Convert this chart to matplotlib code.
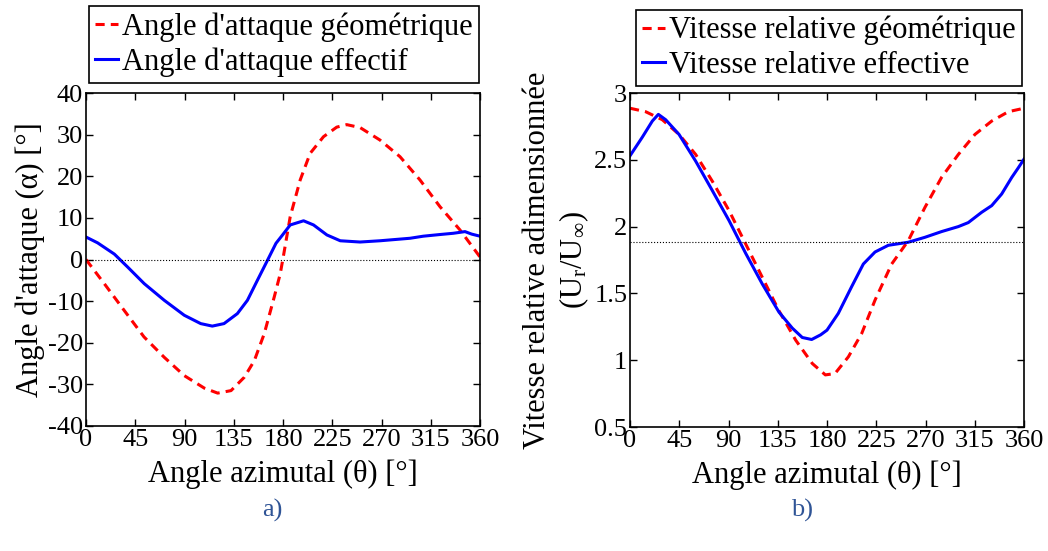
import matplotlib
matplotlib.use("Agg")
import matplotlib.pyplot as plt

plt.rcParams['font.family'] = ['Liberation Serif', 'DejaVu Serif']
plt.rcParams['mathtext.fontset'] = 'custom'
plt.rcParams['mathtext.rm'] = 'Liberation Serif'
plt.rcParams['mathtext.it'] = 'Liberation Serif:italic'
plt.rcParams['axes.unicode_minus'] = False

# ---- Panel a) angle of attack ----
theta_geo_a = [0, 16.7, 34.8, 53.0, 71.5, 89.8, 108.1, 120.3, 132.5, 144.6, 153.8, 162.9,
               172.0, 177.5, 180.5, 186.6, 195.7, 204.8, 217.0, 229.1, 238.2, 250.4,
               268.6, 286.9, 305.2, 323.4, 341.7, 360]
alpha_geo = [0, -5.8, -12.2, -18.6, -23.5, -27.9, -30.9, -32.1, -31.5, -28.3, -24.3, -17.8,
             -9.0, -3.4, 1.0, 10.3, 19.1, 25.5, 29.5, 31.8, 32.4, 31.7,
             28.7, 24.7, 19.1, 12.7, 7.1, 0.6]
theta_eff_a = [0, 10.6, 25.9, 38.0, 53.2, 71.5, 89.8, 104.8, 115.4, 126.1, 138.3, 147.5,
               156.6, 165.8, 173.6, 179.0, 186.6, 198.8, 207.9, 220.1, 232.3, 250.4, 268.6,
               296.0, 308.2, 323.4, 335.6, 346.3, 352.4, 360]
alpha_eff = [5.4, 4.0, 1.3, -1.8, -5.8, -9.8, -13.4, -15.4, -16.0, -15.4, -13.0, -9.8,
             -5.0, -0.2, 3.9, 5.7, 8.3, 9.3, 8.3, 5.9, 4.5, 4.2, 4.5,
             5.1, 5.6, 6.0, 6.3, 6.7, 6.1, 5.6]
alpha_ref = 0.0

# ---- Panel b) relative velocity ----
theta_geo_b = [0, 14.3, 29.5, 44.8, 60.0, 75.2, 90.5, 105.7, 120.9, 136.1, 151.4, 166.6,
               178.5, 187.3, 199.5, 211.7, 223.9, 239.1, 254.3, 269.5, 284.8, 300, 315.2,
               330.5, 345.7, 360]
ur_geo = [2.886, 2.86, 2.80, 2.69, 2.54, 2.34, 2.12, 1.87, 1.62, 1.37, 1.15, 0.975,
          0.89, 0.90, 1.025, 1.20, 1.45, 1.72, 1.895, 2.144, 2.37, 2.54, 2.69,
          2.79, 2.86, 2.886]
theta_eff_b = [0, 11.3, 20.4, 25.9, 32.6, 44.8, 60, 75.2, 90.5, 105.7, 120.9, 136.1, 148.3,
               157.4, 166.0, 174.2, 180.0, 190.3, 202.5, 213.2, 223.9, 236.0, 254.3, 269.5,
               284.8, 300, 309.1, 321.3, 330.5, 339.6, 348.8, 354.8, 360]
ur_eff = [2.53, 2.67, 2.79, 2.84, 2.80, 2.69, 2.49, 2.27, 2.045, 1.80, 1.57, 1.36, 1.24,
          1.17, 1.155, 1.19, 1.225, 1.35, 1.55, 1.72, 1.81, 1.86, 1.883, 1.92,
          1.963, 2.0, 2.03, 2.107, 2.157, 2.244, 2.368, 2.44, 2.505]
ur_ref = 1.885

xticks = [0, 45, 90, 135, 180, 225, 270, 315, 360]

W, H = 1048, 551
fig = plt.figure(figsize=(W / 100, H / 100), dpi=100)

def frac(x0, y0, x1, y1):
    return [x0 / W, 1 - y1 / H, (x1 - x0) / W, (y1 - y0) / H]

ax1 = fig.add_axes(frac(86, 93, 480, 426))
ax2 = fig.add_axes(frac(630, 93, 1024, 427))

tick_fs = 19
lab_fs = 22
leg_fs = 22

def style(ax):
    ax.tick_params(direction='in', top=True, right=True, length=5, width=1,
                   labelsize=tick_fs, pad=2)
    for s in ax.spines.values():
        s.set_linewidth(1.2)
    ax.set_xlim(0, 360)
    ax.set_xticks(xticks)
    ax.set_xticklabels([str(t) for t in xticks])

# Panel a
ax1.plot(theta_geo_a, alpha_geo, '--', color='#ff0000', lw=2.2, dashes=(3, 2),
         label="Angle d'attaque géométrique")
ax1.plot(theta_eff_a, alpha_eff, '-', color='#0000ff', lw=2.2,
         label="Angle d'attaque effectif")
ax1.axhline(alpha_ref, color='black', lw=0.8, ls=':')
style(ax1)
ax1.set_ylim(-40, 40)
ax1.set_yticks(range(-40, 41, 10))
ax1.set_xlabel('Angle azimutal (θ) [°]', fontsize=lab_fs, labelpad=6)
ax1.set_ylabel("Angle d'attaque (α) [°]", fontsize=lab_fs, labelpad=2)
leg1 = ax1.legend(loc='lower right', bbox_to_anchor=(0.9975, 1.03), fontsize=leg_fs,
                  frameon=True, fancybox=False, edgecolor='black', framealpha=1,
                  handlelength=0.75, handletextpad=0.15, labelspacing=0.18,
                  borderpad=0.2, borderaxespad=0)
leg1.get_frame().set_linewidth(1.2)

# Panel b
ax2.plot(theta_geo_b, ur_geo, '--', color='#ff0000', lw=2.2, dashes=(3, 2),
         label='Vitesse relative géométrique')
ax2.plot(theta_eff_b, ur_eff, '-', color='#0000ff', lw=2.2,
         label='Vitesse relative effective')
ax2.axhline(ur_ref, color='black', lw=0.8, ls=':')
style(ax2)
ax2.set_ylim(0.5, 3)
yt = [0.5, 1, 1.5, 2, 2.5, 3]
ax2.set_yticks(yt)
ax2.set_yticklabels(['0.5', '1', '1.5', '2', '2.5', '3'])
ax2.set_xlabel('Angle azimutal (θ) [°]', fontsize=lab_fs, labelpad=6)
ax2.set_ylabel('Vitesse relative adimensionnée\n(U$_\\mathregular{r}$/U$_\\infty$)',
               fontsize=lab_fs, labelpad=2, linespacing=1.25)
leg2 = ax2.legend(loc='lower right', bbox_to_anchor=(0.995, 1.021), fontsize=leg_fs,
                  frameon=True, fancybox=False, edgecolor='black', framealpha=1,
                  handlelength=0.75, handletextpad=0.15, labelspacing=0.18,
                  borderpad=0.2, borderaxespad=0)
leg2.get_frame().set_linewidth(1.2)

fig.text(272 / W, 1 - 510 / H, 'a)', color='#2f5496', fontsize=19, ha='center', va='center')
fig.text(802 / W, 1 - 510 / H, 'b)', color='#2f5496', fontsize=19, ha='center', va='center')

fig.savefig('out.png', dpi=100)
